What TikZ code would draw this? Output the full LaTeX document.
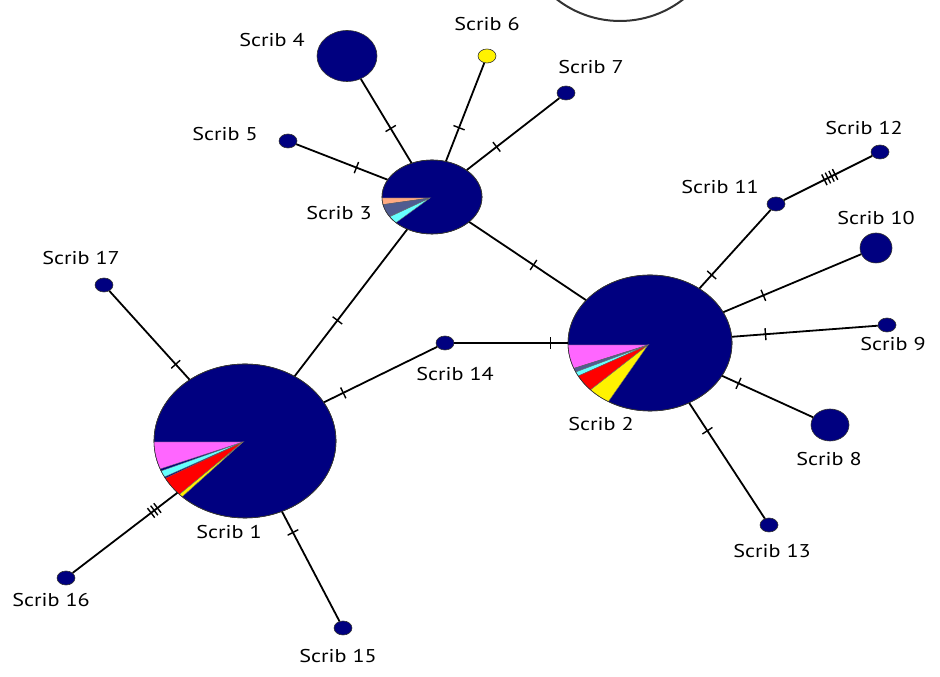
\documentclass[tikz,border=0pt]{standalone}
\usepackage{fontspec}
\setmainfont{PT Sans}[FakeStretch=1.2]
\usetikzlibrary{shapes.geometric,decorations.markings}
\definecolor{hapnavy}{RGB}{0,0,128}
\definecolor{slpink}{RGB}{255,102,255}
\definecolor{slcyan}{RGB}{102,255,255}
\definecolor{slslate}{RGB}{80,92,145}
\definecolor{slpeach}{RGB}{255,170,130}
% one wedge of a pie: centre, from, to, colour
\newcommand{\pieslice}[4]{\fill[#4,draw=black!60,line width=.4pt,shift={(#1)}] (0,0) -- (#2:250) arc[start angle=#2,end angle=#3,radius=250] -- cycle;}
\begin{document}
\begin{tikzpicture}[x=1pt,y=1pt,
  hap/.style={ellipse,draw=black!80,line width=.6pt,fill=hapnavy,inner sep=0pt,minimum width=18pt,minimum height=14pt},
  lbl/.style={font=\fontsize{18.5}{22}\selectfont,inner sep=0pt},
  link/.style={line width=1.8pt},
  onebar/.style={postaction={decorate,decoration={markings,mark=at position #1 with {\draw[line width=1.4pt] (0pt,-6pt) -- (0pt,6pt);}}}},
  threebar/.style={postaction={decorate,decoration={markings,mark=at position #1 with {\foreach \d in {-4,0,4} \draw[line width=1.4pt] (\d pt,-6pt) -- (\d pt,6pt);}}}},
  fourbar/.style={postaction={decorate,decoration={markings,mark=at position #1 with {\foreach \d in {-6,-2,2,6} \draw[line width=1.4pt] (\d pt,-6pt) -- (\d pt,6pt);}}}}]
\useasboundingbox (0,0) rectangle (940,677);

% circle cut by the top edge
\begin{scope}
\clip (0,0) rectangle (940,677);
\draw[black!80,line width=2pt] (620,759) circle (103);
\end{scope}

% haplotypes
\node[hap,minimum width=182pt,minimum height=154pt] (s1) at (245,236) {};
\node[hap,minimum width=164pt,minimum height=136pt] (s2) at (650,334) {};
\node[hap,minimum width=100pt,minimum height=74pt] (s3) at (432,480) {};
\node[hap,minimum width=60pt,minimum height=51pt] (s4) at (347,621) {};
\node[hap] (s5) at (288,536) {};
\node[hap,fill=yellow] (s6) at (487,621) {};
\node[hap] (s7) at (566,584) {};
\node[hap,minimum width=38pt,minimum height=32pt] (s8) at (830,252) {};
\node[hap] (s9) at (887,352) {};
\node[hap,minimum width=32pt,minimum height=30pt] (s10) at (876,429) {};
\node[hap] (s11) at (776,473) {};
\node[hap] (s12) at (880,525) {};
\node[hap] (s13) at (769,152) {};
\node[hap] (s14) at (445,334) {};
\node[hap] (s15) at (343,49) {};
\node[hap] (s16) at (66,99) {};
\node[hap] (s17) at (104,392) {};

% pies
\begin{scope}
\clip (245,236) ellipse [x radius=91,y radius=77];
\pieslice{243,235}{180}{198}{slpink}
\pieslice{243,235}{199.5}{204}{slcyan}
\pieslice{243,235}{205}{219.5}{red}
\pieslice{243,235}{219.5}{222}{yellow}
\end{scope}
\draw[black!80,line width=.6pt] (s1.center) ellipse [x radius=91,y radius=77];
\begin{scope}
\clip (650,334) ellipse [x radius=82,y radius=68];
\pieslice{648,332}{180}{197.5}{slpink}
\pieslice{648,332}{197.5}{200.5}{slslate}
\pieslice{648,332}{200.5}{204}{slcyan}
\pieslice{648,332}{204}{218}{red}
\pieslice{648,332}{218}{235}{yellow}
\end{scope}
\draw[black!80,line width=.6pt] (s2.center) ellipse [x radius=82,y radius=68];
\begin{scope}
\clip (432,480) ellipse [x radius=50,y radius=37];
\pieslice{430,479}{180}{188}{slpeach}
\pieslice{430,479}{188}{205}{slslate}
\pieslice{430,479}{205}{216}{slcyan}
\end{scope}
\draw[black!80,line width=.6pt] (s3.center) ellipse [x radius=50,y radius=37];

% links
\draw[link,onebar=.38] (s1) -- (s3);
\draw[link,onebar=.17] (s1) -- (s14);
\draw[link,onebar=.85] (s14) -- (s2);
\draw[link,onebar=.55] (s3) -- (s2);
\draw[link,onebar=.59] (s4) -- (s3);
\draw[link,onebar=.66] (s5) -- (s3);
\draw[link,onebar=.66] (s6) -- (s3);
\draw[link,onebar=.68] (s7) -- (s3);
\draw[link,onebar=.83] (s11) -- (s2);
\draw[link,fourbar=.52] (s11) -- (s12);
\draw[link,onebar=.71] (s10) -- (s2);
\draw[link,onebar=.77] (s9) -- (s2);
\draw[link,onebar=.82] (s8) -- (s2);
\draw[link,onebar=.76] (s13) -- (s2);
\draw[link,onebar=.83] (s17) -- (s1);
\draw[link,threebar=.78] (s16) -- (s1);
\draw[link,onebar=.19] (s1) -- (s15);

% labels
\node[lbl] (l1) at (229,145) {Scrib 1};
\node[lbl] (l2) at (601,253) {Scrib 2};
\node[lbl] (l3) at (339,464) {Scrib 3};
\node[lbl] (l4) at (272,637) {Scrib 4};
\node[lbl] (l5) at (225,543) {Scrib 5};
\node[lbl] (l6) at (487,653) {Scrib 6};
\node[lbl] (l7) at (591,610) {Scrib 7};
\node[lbl] (l8) at (829,218) {Scrib 8};
\node[lbl] (l9) at (893,333) {Scrib 9};
\node[lbl] (l10) at (876,459) {Scrib 10};
\node[lbl] (l11) at (720,490) {Scrib 11};
\node[lbl] (l12) at (864,549) {Scrib 12};
\node[lbl] (l13) at (772,126) {Scrib 13};
\node[lbl] (l14) at (455,303) {Scrib 14};
\node[lbl] (l15) at (338,21) {Scrib 15};
\node[lbl] (l16) at (51,77) {Scrib 16};
\node[lbl] (l17) at (81,419) {Scrib 17};
\end{tikzpicture}
\end{document}
